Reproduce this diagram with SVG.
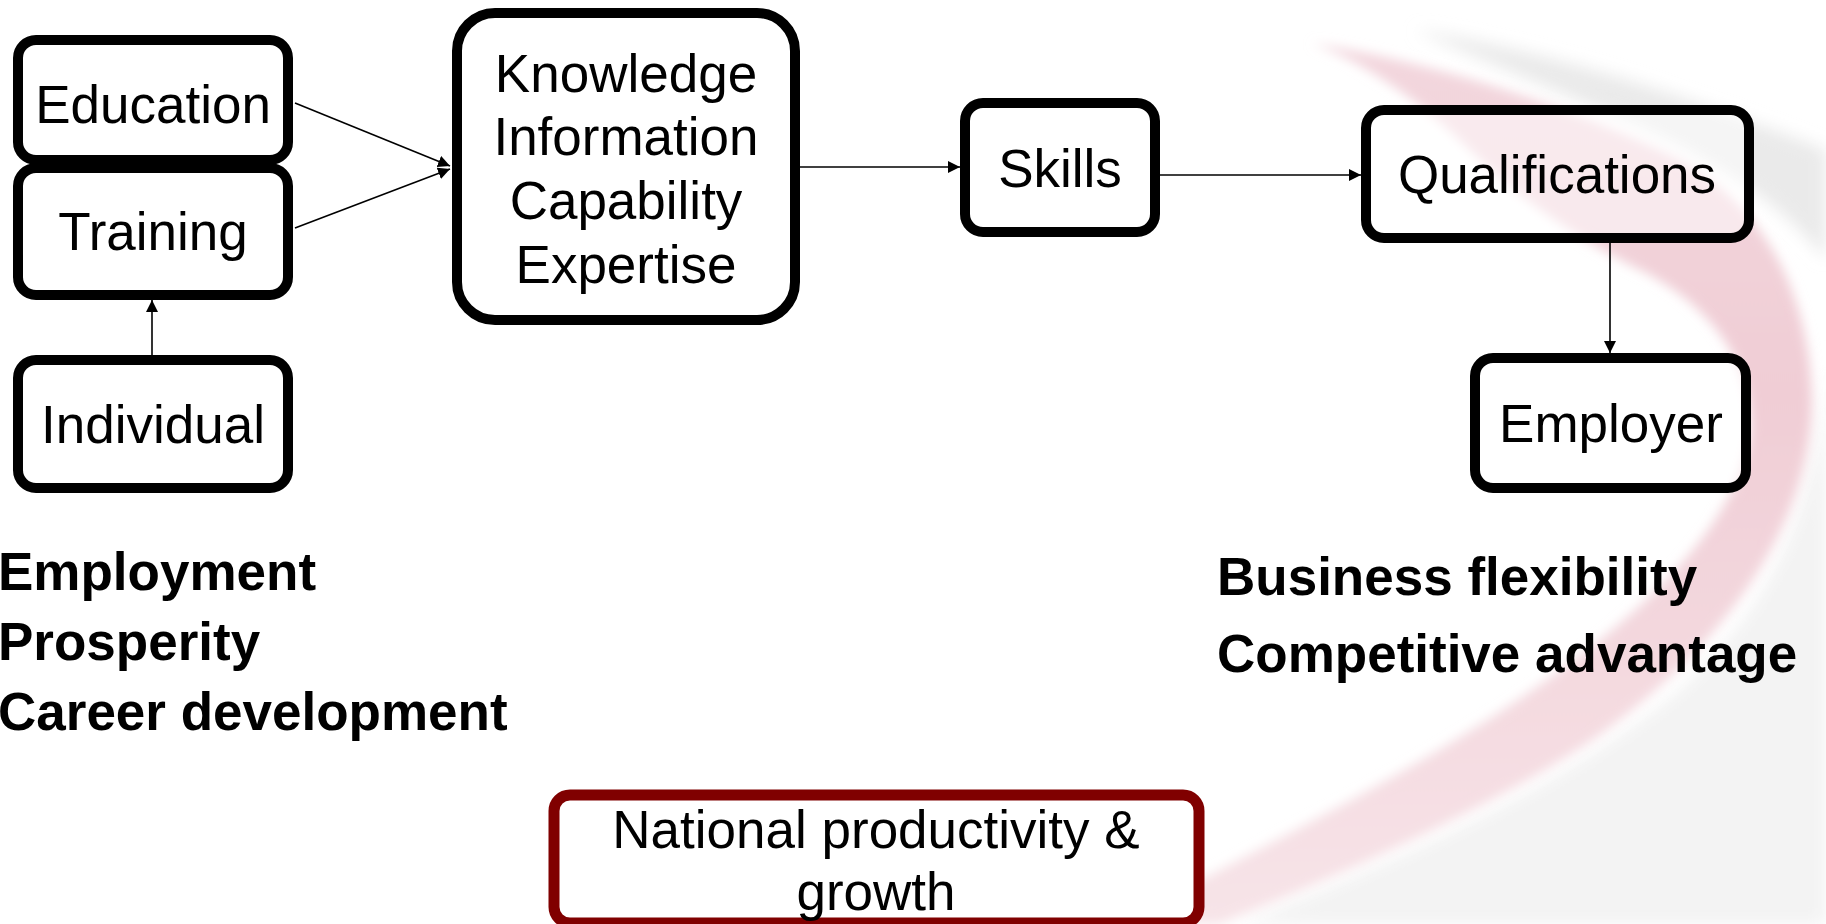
<svg xmlns="http://www.w3.org/2000/svg" width="1826" height="924" viewBox="0 0 1826 924">
  <defs>
    <style>
      .box { fill: #ffffff; fill-opacity: 0.5; stroke: #000; stroke-width: 10; }
      .nat { fill: #ffffff; stroke: #800000; stroke-width: 11; }
      .lbl { font-family: "Liberation Sans", Arial, sans-serif; font-size: 53px; fill: #000; text-anchor: middle; }
      .bold { font-family: "Liberation Sans", Arial, sans-serif; font-size: 53px; font-weight: bold; fill: #000; }
      .conn { stroke: #000; stroke-width: 1.6; fill: none; marker-end: url(#arr); }
    </style>
    <marker id="arr" markerUnits="userSpaceOnUse" markerWidth="14" markerHeight="14" refX="12" refY="6" orient="auto">
      <path d="M0,0 L12,6 L0,12 Z" fill="#000"/>
    </marker>
    <filter id="blur4" x="-20%" y="-20%" width="140%" height="140%">
      <feGaussianBlur stdDeviation="6"/>
    </filter>
    <filter id="blur8" x="-20%" y="-20%" width="140%" height="140%">
      <feGaussianBlur stdDeviation="8"/>
    </filter>
    <linearGradient id="pinkg" x1="0" y1="0" x2="0" y2="1">
      <stop offset="0" stop-color="#f3d7de"/>
      <stop offset="0.4" stop-color="#f0cdd5"/>
      <stop offset="1" stop-color="#f7e4e8"/>
    </linearGradient>
  </defs>

  <rect width="1826" height="924" fill="#ffffff"/>

  <g id="background">
    <path d="M1826,330 L1826,924 L1240,924 C1400,860 1560,790 1680,690 C1790,590 1826,470 1826,330 Z" fill="#f3f3f3" filter="url(#blur8)"/>
    <path d="M1415,30 C1550,50 1700,100 1826,150 L1826,260 C1780,200 1700,150 1600,110 C1530,80 1470,55 1415,30 Z" fill="#eaeaea" filter="url(#blur8)"/>
    <path d="M1311,43 C1420,60 1560,100 1680,160 C1770,210 1810,300 1812,400 C1812,520 1730,640 1600,735 C1500,805 1330,880 1220,924 L1120,924 C1250,850 1450,760 1600,640 C1700,560 1752,480 1750,420 C1748,350 1700,300 1640,270 C1580,240 1520,200 1470,150 C1420,100 1360,60 1311,43 Z" fill="url(#pinkg)" filter="url(#blur4)"/>
  </g>

  <g id="connectors">
    <line class="conn" x1="295" y1="103" x2="450" y2="166"/>
    <line class="conn" x1="295" y1="228" x2="450" y2="169"/>
    <line class="conn" x1="152" y1="356" x2="152" y2="300"/>
    <line class="conn" x1="800" y1="167" x2="960" y2="167"/>
    <line class="conn" x1="1160" y1="175" x2="1361" y2="175"/>
    <line class="conn" x1="1610" y1="243" x2="1610" y2="353"/>
  </g>

  <g id="node-education">
    <rect class="box" x="18" y="40" width="270" height="120" rx="18"/>
    <text class="lbl" x="153" y="123">Education</text>
  </g>
  <g id="node-training">
    <rect class="box" x="18" y="168" width="270" height="127" rx="18"/>
    <text class="lbl" x="153" y="250">Training</text>
  </g>
  <g id="node-individual">
    <rect class="box" x="18" y="360" width="270" height="128" rx="18"/>
    <text class="lbl" x="153" y="443">Individual</text>
  </g>
  <g id="node-knowledge">
    <rect class="box" x="457" y="13" width="338" height="307" rx="38"/>
    <text class="lbl" x="626" y="92">Knowledge</text>
    <text class="lbl" x="626" y="155">Information</text>
    <text class="lbl" x="626" y="219">Capability</text>
    <text class="lbl" x="626" y="283">Expertise</text>
  </g>
  <g id="node-skills">
    <rect class="box" x="965" y="103" width="190" height="129" rx="18"/>
    <text class="lbl" x="1060" y="187">Skills</text>
  </g>
  <g id="node-qualifications">
    <rect class="box" x="1366" y="110" width="383" height="128" rx="18"/>
    <text class="lbl" x="1557" y="193">Qualifications</text>
  </g>
  <g id="node-employer">
    <rect class="box" x="1475" y="358" width="271" height="130" rx="18"/>
    <text class="lbl" x="1611" y="442">Employer</text>
  </g>

  <g id="individual-outcomes">
    <text class="bold" x="-2" y="590">Employment</text>
    <text class="bold" x="-2" y="660">Prosperity</text>
    <text class="bold" x="-2" y="730">Career development</text>
  </g>
  <g id="employer-outcomes">
    <text class="bold" x="1217" y="595">Business flexibility</text>
    <text class="bold" x="1217" y="672">Competitive advantage</text>
  </g>

  <g id="node-national">
    <rect class="nat" x="554" y="795" width="645" height="128" rx="16"/>
    <text class="lbl" x="876" y="848">National productivity &amp;</text>
    <text class="lbl" x="876" y="910">growth</text>
  </g>
</svg>
